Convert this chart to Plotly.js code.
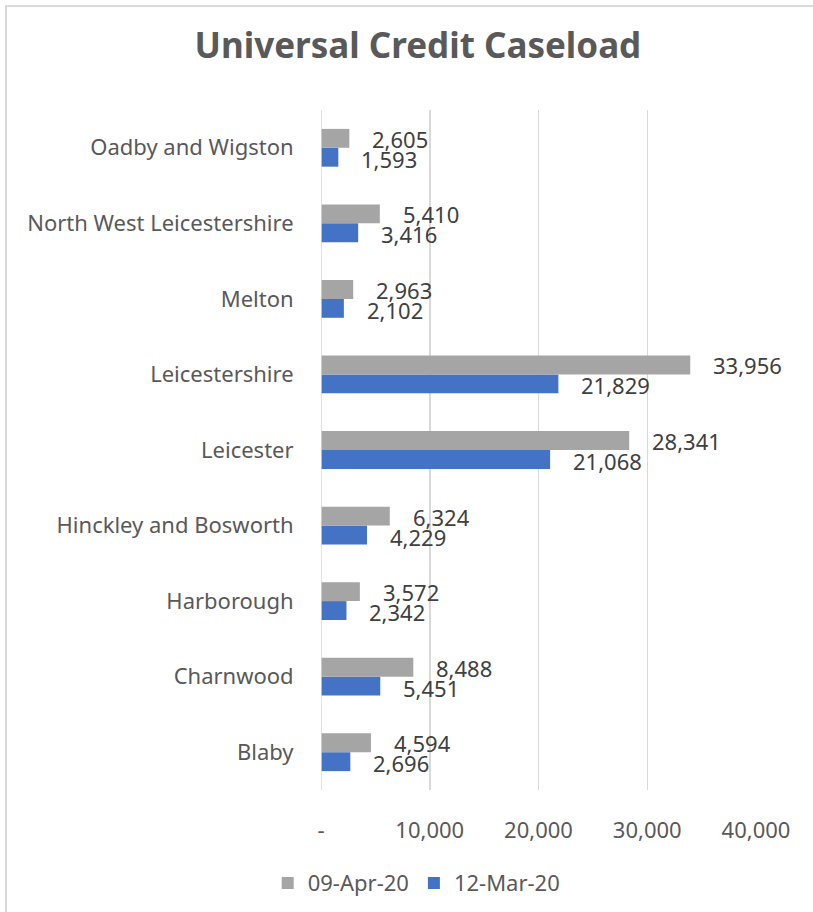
<!DOCTYPE html>
<html>
<head>
<meta charset="utf-8">
<script src="https://cdn.plot.ly/plotly-3.0.1.min.js"></script>
<style>
html,body{margin:0;padding:0;background:#fff;}
#wrap{position:relative;width:813px;height:912px;overflow:hidden;}
#chart{position:absolute;left:0;top:0;width:813px;height:912px;}
#frame{position:absolute;left:5px;top:5px;width:900px;height:1000px;border:2px solid #d9d9d9;pointer-events:none;}
</style>
</head>
<body>
<div id="wrap"><div id="chart"></div><div id="frame"></div></div>
<script>
const categories = ["Blaby","Charnwood","Harborough","Hinckley and Bosworth","Leicester","Leicestershire","Melton","North West Leicestershire","Oadby and Wigston"];
const apr20 = [4594, 8488, 3572, 6324, 28341, 33956, 2963, 5410, 2605];
const mar20 = [2696, 5451, 2342, 4229, 21068, 21829, 2102, 3416, 1593];
const tickVals = [0, 10000, 20000, 30000, 40000];
const tickText = ["-", "10,000", "20,000", "30,000", "40,000"];

const FONT = "Noto Sans, Open Sans, sans-serif";
const fmt = v => v.toLocaleString("en-US");

const traces = [
  {type:"bar", orientation:"h", name:"12-Mar-20", y:categories, x:mar20,
   marker:{color:"#4472c4"}, hoverinfo:"x"},
  {type:"bar", orientation:"h", name:"09-Apr-20", y:categories, x:apr20,
   marker:{color:"#a5a5a5"}, hoverinfo:"x"}
];

const annotations = [];
categories.forEach((c,i)=>{
  annotations.push({x:apr20[i], y:c, xref:"x", yref:"y", text:fmt(apr20[i]), showarrow:false,
    xanchor:"left", yanchor:"middle", xshift:21, yshift:9,
    font:{family:FONT, size:22, color:"#404040"}});
  annotations.push({x:mar20[i], y:c, xref:"x", yref:"y", text:fmt(mar20[i]), showarrow:false,
    xanchor:"left", yanchor:"middle", xshift:21, yshift:-11,
    font:{family:FONT, size:22, color:"#404040"}});
});

const layout = {
  width:813, height:912,
  margin:{l:321, r:57, t:110, b:122, autoexpand:false},
  paper_bgcolor:"#ffffff", plot_bgcolor:"#ffffff",
  font:{family:FONT, color:"#595959", size:22},
  title:{text:"<b>Universal Credit Caseload</b>", x:0.514, xref:"container", xanchor:"center",
    y:1, yref:"container", yanchor:"top", pad:{t:33},
    font:{family:FONT, size:35, color:"#595959"}},
  barmode:"group", bargap:0.5, bargroupgap:0,
  xaxis:{range:[0,40000], tickvals:tickVals, ticktext:tickText,
    showgrid:true, gridcolor:"#d9d9d9", gridwidth:1.5, zeroline:false,
    showline:false, ticks:"outside", ticklen:21, tickcolor:"rgba(0,0,0,0)",
    tickfont:{family:FONT, size:22, color:"#595959"}, fixedrange:true, automargin:false},
  yaxis:{type:"category", categoryorder:"array", categoryarray:categories,
    showgrid:false, zeroline:false, showline:false,
    ticks:"outside", ticklen:22, tickcolor:"rgba(0,0,0,0)",
    tickfont:{family:FONT, size:22, color:"#595959"}, fixedrange:true, automargin:false},
  shapes:[{type:"line", xref:"x", yref:"paper", x0:0, x1:0, y0:0, y1:1,
    line:{color:"#d9d9d9", width:1.5}}],
  legend:{orientation:"h", x:0.22, xref:"paper", xanchor:"center", y:-0.106, yanchor:"top",
    traceorder:"reversed", font:{family:FONT, size:22, color:"#595959"},
    itemwidth:30, itemsizing:"constant"},
  annotations:annotations,
  showlegend:true
};

Plotly.newPlot("chart", traces, layout, {displayModeBar:false, staticPlot:true});
</script>
</body>
</html>
